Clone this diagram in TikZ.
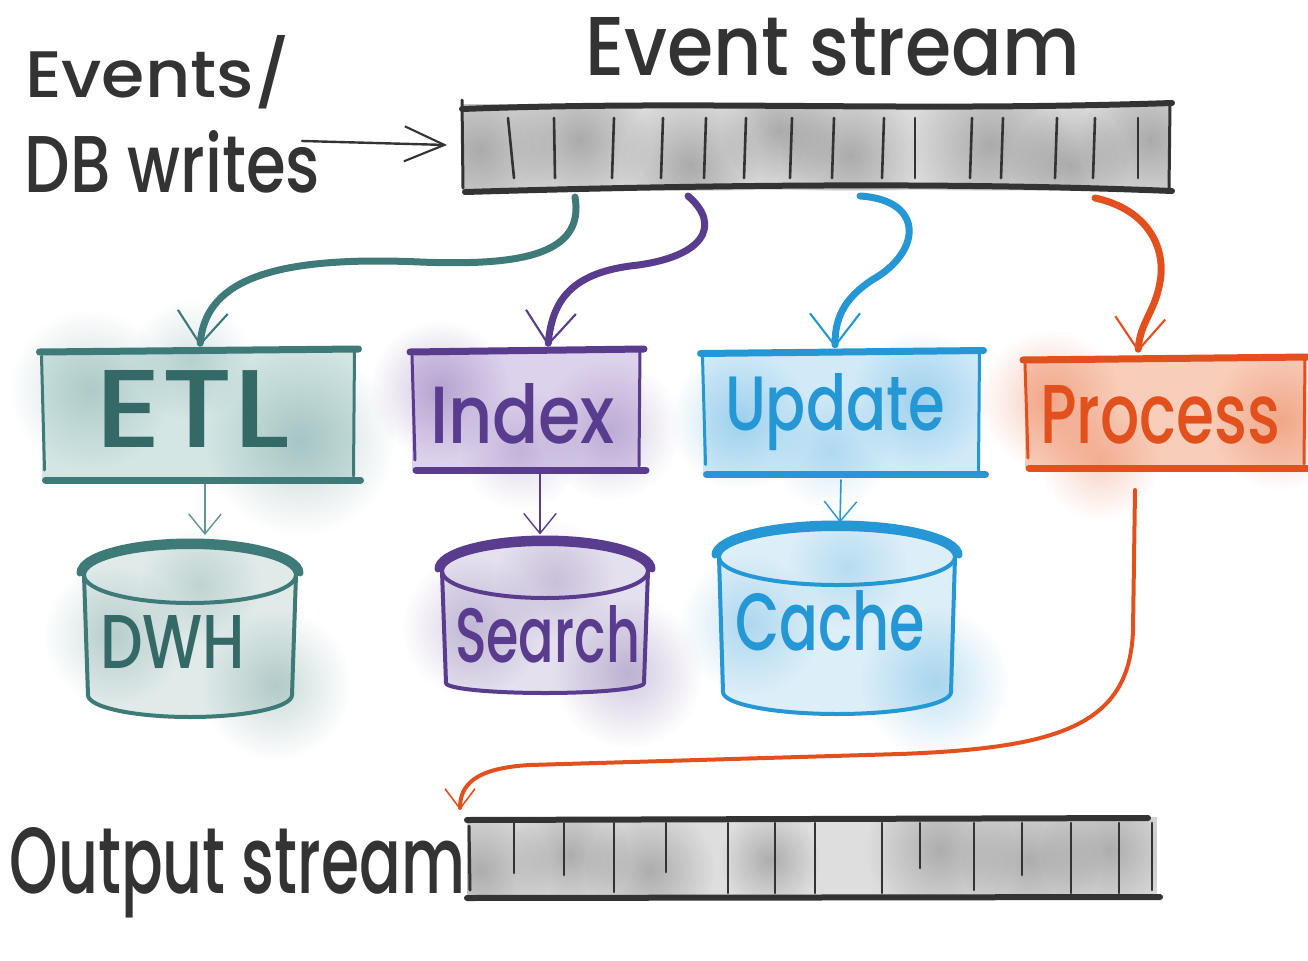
\documentclass[tikz,border=0pt]{standalone}
\usepackage{fontspec}
\setmainfont{Poppins}[UprightFont={* Medium}]
\usetikzlibrary{arrows.meta,calc,fadings}
\tikzfading[name=softblob, inner color=transparent!0, outer color=transparent!100]
\newdimen\pxu \pxu=0.02cm
\definecolor{ink}{HTML}{333333}
\definecolor{tealA}{HTML}{3E7B78}\definecolor{tealB}{HTML}{D3E6E4}
\definecolor{purpA}{HTML}{5A3C8F}\definecolor{purpB}{HTML}{DDD2EC}
\definecolor{blueA}{HTML}{2497D4}\definecolor{blueB}{HTML}{D2EAF8}
\definecolor{oranA}{HTML}{E2501D}\definecolor{oranB}{HTML}{F8CDB9}
\newcommand{\fitt}[3]{\resizebox{#1\pxu}{#2\pxu}{#3}}
\newcommand{\blob}[4]{\fill[#1, opacity=#4, path fading=softblob] (#2) circle (#3);}
\newcommand{\sketchbox}[2]{%
  \draw[#2, line width=7\pxu, line cap=round] ($(#1.north west)+(-2,2)$) -- ($(#1.north east)+(4,-1)$);
  \draw[#2, line width=7\pxu, line cap=round] ($(#1.south west)+(4,0)$) -- ($(#1.south east)+(6,0)$);
  \draw[#2, line width=3\pxu, line cap=round] ($(#1.north west)+(0,6)$) -- ($(#1.south west)+(3,-10)$);
  \draw[#2, line width=3\pxu, line cap=round] ($(#1.north east)+(0,-2)$) -- ($(#1.south east)+(-1,-4)$);}
% cx cy rx ry h color bottom-ry
\newcommand{\drawcyl}[7]{%
  \fill[#6!16] ({#1-#3},#2) -- ({#1-#3+4},{#2+#5}) arc[start angle=180, end angle=0, x radius=#3-4, y radius=#7] -- ({#1+#3},#2) arc[start angle=0, end angle=-180, x radius=#3, y radius=#4] -- cycle;
  \blob{#6}{{#1-#3+30},{#2+#5/2}}{70}{0.25}
  \blob{#6}{{#1+#3-20},{#2+#5-10}}{75}{0.28}
  \blob{#6}{{#1+10},{#2+10}}{60}{0.2}
  \draw[#6, line width=4\pxu] (#1,#2) ellipse[x radius=#3, y radius=#4];
  \draw[#6, line width=7\pxu, line cap=round] ({#1-#3-4},{#2-2}) arc[start angle=180, end angle=360, x radius=#3+4, y radius=#4+3];
  \draw[#6, line width=4\pxu, line cap=round] ({#1-#3},#2) -- ({#1-#3+4},{#2+#5}) arc[start angle=180, end angle=0, x radius=#3-4, y radius=#7] -- ({#1+#3},#2);}
\tikzset{
  area/.style={inner sep=0pt, outer sep=0pt},
  lbl/.style={inner sep=0pt, outer sep=0pt, anchor=base west},
  bigarrow/.style={line width=7\pxu, line cap=round, -{Straight Barb[length=0.65cm, width=1.0cm, line width=1.2pt]}},
  thinarrow/.style={line width=1.6\pxu, -{Straight Barb[length=0.4cm, width=0.65cm, line width=0.8pt]}},
  divider/.style={ink, line width=2.6\pxu, line cap=round}
}
\begin{document}
\begin{tikzpicture}[x=0.02cm, y=-0.02cm]
\useasboundingbox (0,0) rectangle (1308,960);
\fill[white] (0,0) rectangle (1308,960);

% ---------- named areas ----------
\node[area, minimum width=708\pxu, minimum height=86\pxu] (es) at (816,147) {};
\node[area, minimum width=690\pxu, minimum height=82\pxu] (os) at (812,858) {};
\node[area, minimum width=313\pxu, minimum height=130\pxu] (etl) at (198,415) {};
\node[area, minimum width=228\pxu, minimum height=120\pxu] (idx) at (526,410) {};
\node[area, minimum width=277\pxu, minimum height=123\pxu] (upd) at (841,413) {};
\node[area, minimum width=280\pxu, minimum height=110\pxu] (proc) at (1165,413) {};
\node[area, minimum width=212\pxu, minimum height=170\pxu] (dwh) at (190,632) {};
\node[area, minimum width=206\pxu, minimum height=147\pxu] (srch) at (545,616) {};
\node[area, minimum width=236\pxu, minimum height=185\pxu] (cache) at (837,621) {};

% ---------- watercolour fills of boxes ----------
\fill[tealB] (etl.north west) rectangle (etl.south east);
\blob{tealA}{90,390}{80}{0.25}
\blob{tealA}{300,440}{95}{0.3}
\blob{tealA}{190,360}{60}{0.2}
\fill[purpB] (idx.north west) rectangle (idx.south east);
\blob{purpA}{440,390}{70}{0.3}
\blob{purpA}{610,430}{70}{0.25}
\blob{purpA}{520,450}{60}{0.2}
\fill[blueB] (upd.north west) rectangle (upd.south east);
\blob{blueA}{740,420}{70}{0.3}
\blob{blueA}{920,400}{70}{0.3}
\blob{blueA}{830,450}{60}{0.2}
\fill[oranB] (proc.north west) rectangle (proc.south east);
\blob{oranA}{1050,400}{70}{0.3}
\blob{oranA}{1280,420}{70}{0.3}
\blob{oranA}{1100,460}{60}{0.25}

% ---------- streams ----------
\begin{scope}
  \clip (es.north west) rectangle (es.south east);
  \fill[black!14] (es.north west) rectangle (es.south east);
  \foreach \px/\py/\pr in {480/150/80, 580/140/70, 690/165/70, 780/130/60, 850/155/70, 990/145/80, 1070/165/60, 1150/140/70}
    {\blob{black}{\px,\py}{\pr}{0.22}}
\end{scope}
\draw[ink, line width=6\pxu, line cap=round] (462,109) .. controls (700,100) and (900,112) .. (1172,103);
\draw[ink, line width=6\pxu, line cap=round] (465,192) .. controls (700,185) and (950,182) .. (1172,191);
\draw[ink, line width=3\pxu, line cap=round] (462,100) -- (463,188);
\draw[ink, line width=3\pxu, line cap=round] (1170,103) -- (1169,190);
\foreach \xa/\xb in {508/514, 554/555, 614/612, 663/661, 706/704, 746/744, 792/790, 834/832, 884/882, 915/915, 972/970, 1003/1001, 1057/1055, 1095/1093, 1138/1138}
  \draw[divider] (\xa,118) -- (\xb,178);

\begin{scope}
  \clip (os.north west) rectangle (os.south east);
  \fill[black!13] (os.north west) rectangle (os.south east);
  \foreach \px/\py/\pr in {480/870/70, 570/855/60, 650/870/65, 770/860/50, 940/850/75, 1030/860/70, 1110/850/70}
    {\blob{black}{\px,\py}{\pr}{0.22}}
\end{scope}
\draw[ink, line width=6\pxu, line cap=round] (467,820) -- (1148,818);
\draw[ink, line width=6\pxu, line cap=round] (467,898) -- (1160,897);
\draw[ink, line width=3\pxu, line cap=round] (469,826) -- (470,890);
\foreach \xa/\ya/\yb in {514/823/873, 564/823/875, 614/823/892, 666/823/872, 728/823/893, 775/823/893, 815/823/893, 882/823/893, 920/823/868, 974/823/890, 1022/823/875, 1071/823/893, 1119/823/893, 1152/823/890}
  \draw[divider] (\xa,\ya) -- (\xa,\yb);

% ---------- box outlines ----------
\sketchbox{etl}{tealA}
\sketchbox{idx}{purpA}
\sketchbox{upd}{blueA}
\sketchbox{proc}{oranA}

% ---------- cylinders ----------
\drawcyl{190}{575}{106}{28}{120}{tealA}{22}
\drawcyl{545}{571}{103}{27}{112}{purpA}{10}
\drawcyl{837}{557}{118}{28}{135}{blueA}{22}

% ---------- texts ----------
\node[lbl, text=ink] (tev) at (25,97) {\fitt{265}{62}{Events/}};
\node[lbl, text=ink] (tdb) at (25,192) {\fitt{295}{62}{DB writes}};
\node[lbl, text=ink] (tes) at (585,75) {\fitt{495}{58}{Event stream}};
\node[lbl, text=ink] (tos) at (10,893) {\fitt{455}{66}{Output stream}};
\node[lbl, text=tealA!85!black] (tetl) at (95,447) {\fitt{195}{77}{ETL}};
\node[lbl, text=purpA] (tidx) at (430,443) {\fitt{185}{60}{Index}};
\node[lbl, text=blueA] (tupd) at (725,430) {\fitt{220}{57}{Update}};
\node[lbl, text=oranA] (tproc) at (1040,443) {\fitt{240}{58}{Process}};
\node[lbl, text=tealA!85!black] (tdwh) at (100,668) {\fitt{145}{53}{DWH}};
\node[lbl, text=purpA] (tsrch) at (455,662) {\fitt{185}{57}{Search}};
\node[lbl, text=blueA] (tcache) at (735,650) {\fitt{190}{60}{Cache}};

% ---------- connectors ----------
\coordinate (in0) at (302,141);
\draw[ink, line width=2.4\pxu, line cap=round, -{Straight Barb[length=0.8cm, width=0.7cm, line width=1.2pt]}] (in0) -- ($(es.west)+(-15,-2)$);

\draw[tealA, bigarrow] ($(es.south west)+(113,7)$) .. controls (585,255) and (520,266) .. (420,262) .. controls (262,255) and (205,285) .. ($(etl.north)+(2,-4)$);
\draw[purpA, bigarrow] ($(es.south west)+(226,6)$) .. controls (722,225) and (705,258) .. (630,266) .. controls (572,274) and (552,300) .. ($(idx.north)+(22,-4)$);
\draw[blueA, bigarrow] ($(es.south west)+(398,6)$) .. controls (925,200) and (922,252) .. (872,280) .. controls (842,300) and (835,320) .. ($(upd.north)+(-6,-4)$);
\draw[oranA, bigarrow] ($(es.south west)+(633,8)$) .. controls (1150,210) and (1166,250) .. (1160,282) .. controls (1155,312) and (1140,322) .. ($(proc.north)+(-27,-6)$);

\draw[tealA!80, thinarrow] ($(etl.south)+(7,4)$) -- ($(dwh.north)+(15,-12)$);
\draw[purpA, thinarrow] ($(idx.south)+(14,4)$) -- ($(srch.north)+(-5,-8)$);
\draw[blueA, thinarrow] ($(upd.south)+(0,5)$) -- ($(cache.north)+(3,-6)$);

\draw[oranA, line width=4\pxu, line cap=round, -{Straight Barb[length=0.4cm, width=0.6cm, line width=0.9pt]}] ($(proc.south)+(-30,22)$) -- (1133,630) .. controls (1130,725) and (1060,748) .. (900,754) -- (530,765) .. controls (475,768) and (460,785) .. ($(os.north west)+(-7,-7)$);
\end{tikzpicture}
\end{document}
